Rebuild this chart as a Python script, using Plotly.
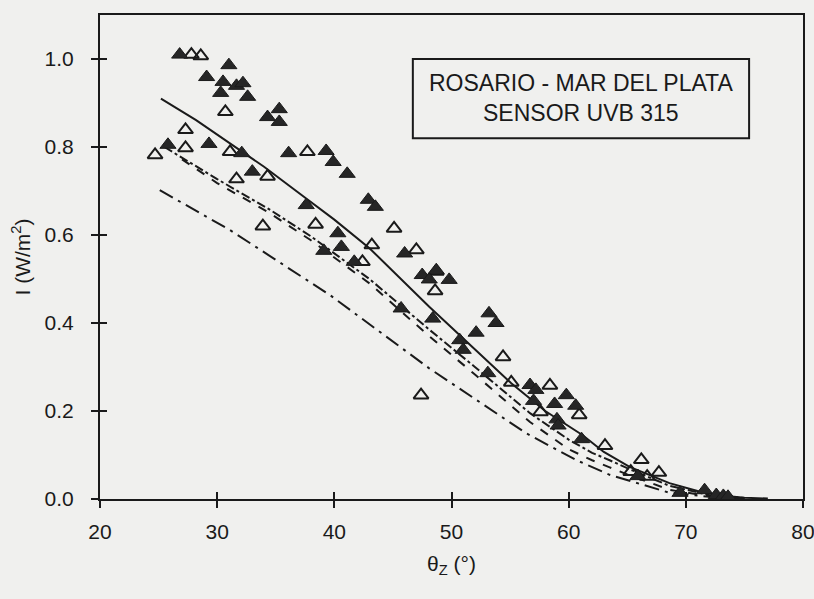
import plotly.graph_objects as go

# ---- data ----
filled_x = [26.8, 29.1, 31.0, 30.5, 30.3, 31.65, 32.2, 32.6, 34.3, 35.3, 35.3, 25.8, 29.3, 32.1,
            36.1, 39.3, 39.9, 41.1, 33.0, 37.6, 40.3, 40.6, 39.1, 41.7, 42.9, 43.5, 46.0, 47.5,
            48.1, 49.8, 48.7, 45.7, 48.4, 53.2, 53.8, 52.1, 50.7, 51.0, 53.1, 56.7, 57.2, 57.0,
            59.8, 58.8, 60.6, 59.0, 59.1, 61.1, 65.9, 69.5, 71.6, 72.6, 73.2, 73.6]
filled_y = [1.01, 0.959, 0.986, 0.948, 0.923, 0.939, 0.945, 0.914, 0.868, 0.886, 0.857, 0.805, 0.807, 0.786,
            0.786, 0.791, 0.766, 0.739, 0.744, 0.668, 0.604, 0.573, 0.564, 0.539, 0.68, 0.664, 0.558, 0.509,
            0.499, 0.498, 0.52, 0.433, 0.41, 0.422, 0.40, 0.378, 0.361, 0.339, 0.286, 0.259, 0.248, 0.223,
            0.236, 0.216, 0.212, 0.181, 0.167, 0.136, 0.052, 0.014, 0.02, 0.009, 0.007, 0.005]

open_x = [27.8, 28.6, 30.7, 27.3, 24.7, 27.3, 31.1, 37.7, 34.3, 31.65, 38.4, 33.9, 42.4, 45.1,
          43.2, 47.0, 48.7, 48.6, 47.4, 54.4, 55.1, 58.4, 60.9, 57.6, 63.1, 66.2, 65.3, 66.7, 67.7]
open_y = [1.01, 1.007, 0.88, 0.839, 0.782, 0.798, 0.789, 0.789, 0.733, 0.727, 0.624, 0.62, 0.539, 0.615,
          0.577, 0.566, 0.517, 0.473, 0.236, 0.323, 0.265, 0.258, 0.191, 0.198, 0.121, 0.089, 0.062, 0.051, 0.06]

# model curves
solid_x = [25.2, 28.2, 31.0, 34.0, 37.6, 40.0, 43.0, 45.0, 48.1, 50.0, 52.0, 55.1, 58.0, 61.2, 63.0, 65.2, 68.6, 71.0, 73.0, 75.0, 77.0]
solid_y = [0.91, 0.861, 0.81, 0.755, 0.683, 0.635, 0.57, 0.518, 0.437, 0.39, 0.34, 0.263, 0.20, 0.145, 0.107, 0.073, 0.036, 0.018, 0.008, 0.003, 0.001]

mid_a_x = [25.5, 30.0, 34.35, 38.0, 43.0, 48.1, 52.0, 56.7, 60.0, 62.0, 63.5, 65.0, 68.6, 72.0, 75.0]
mid_a_y = [0.80, 0.727, 0.66, 0.597, 0.50, 0.385, 0.30, 0.195, 0.135, 0.105, 0.088, 0.07, 0.03, 0.009, 0.002]

mid_b_x = [27.0, 30.0, 34.35, 38.0, 43.0, 48.1, 52.0, 56.7, 60.0, 62.0, 63.5, 65.0, 68.6, 72.0, 75.0]
mid_b_y = [0.772, 0.718, 0.652, 0.588, 0.49, 0.37, 0.283, 0.175, 0.113, 0.088, 0.072, 0.056, 0.021, 0.006, 0.001]

low_x = [25.1, 31.1, 39.6, 48.1, 56.4, 60.6, 63.5, 66.5, 68.5, 72.0, 75.0]
low_y = [0.702, 0.611, 0.464, 0.297, 0.149, 0.089, 0.055, 0.03, 0.015, 0.005, 0.001]

x_ticks = [20, 30, 40, 50, 60, 70, 80]
y_ticks = [0.0, 0.2, 0.4, 0.6, 0.8, 1.0]
y_tick_labels = ["0.0", "0.2", "0.4", "0.6", "0.8", "1.0"]

box_lines = ["ROSARIO - MAR DEL PLATA", "SENSOR UVB 315"]

FONT = "Liberation Sans, Arial, sans-serif"
INK = "#1a1a1a"
BG = "#f0f0ee"

fig = go.Figure()
fig.add_trace(go.Scatter(x=solid_x, y=solid_y, mode="lines", line=dict(color=INK, width=2, dash="solid"),
                         showlegend=False))
fig.add_trace(go.Scatter(x=mid_a_x, y=mid_a_y, mode="lines", line=dict(color=INK, width=2, dash="dashdot"),
                         showlegend=False))
fig.add_trace(go.Scatter(x=mid_b_x, y=mid_b_y, mode="lines", line=dict(color=INK, width=2, dash="dash"),
                         showlegend=False))
fig.add_trace(go.Scatter(x=low_x, y=low_y, mode="lines", line=dict(color=INK, width=2, dash="longdashdot"),
                         showlegend=False))
fig.add_trace(go.Scatter(x=open_x, y=open_y, mode="markers",
                         marker=dict(symbol="triangle-up-open", size=13, color=INK, line=dict(width=2, color=INK)),
                         showlegend=False))
fig.add_trace(go.Scatter(x=filled_x, y=filled_y, mode="markers",
                         marker=dict(symbol="triangle-up", size=14, color="#262626", line=dict(width=1, color=INK)),
                         showlegend=False))
# invisible trace to activate overlay axes (inner ticks)
fig.add_trace(go.Scatter(x=[20], y=[0], xaxis="x2", yaxis="y2", mode="markers",
                         marker=dict(opacity=0), showlegend=False, hoverinfo="skip"))

axis_common = dict(showgrid=False, zeroline=False, linecolor=INK, linewidth=2,
                   tickcolor=INK, tickwidth=1.5, ticklen=7, automargin=False,
                   ticklabeloverflow="allow",
                   tickfont=dict(family=FONT, size=21, color=INK))

fig.update_layout(
    width=814, height=599,
    margin=dict(l=100, r=11, t=15, b=100, autoexpand=False),
    paper_bgcolor=BG, plot_bgcolor=BG,
    font=dict(family=FONT, color=INK),
    xaxis=dict(range=[20, 80], tickvals=x_ticks, ticks="outside", showline=True, mirror=True,
               ticklabelstandoff=6,
               title=dict(text="θ<sub>Z</sub> (°)", font=dict(family=FONT, size=21, color=INK), standoff=14),
               **axis_common),
    yaxis=dict(range=[0, 1.1], tickvals=y_ticks, ticktext=y_tick_labels, ticks="outside", showline=True, mirror=True,
               ticklabelstandoff=13,
               title=dict(text="I (W/m<sup>2</sup>)", font=dict(family=FONT, size=21, color=INK), standoff=8),
               **axis_common),
    xaxis2=dict(range=[20, 80], tickvals=x_ticks, ticks="inside", ticklen=7, tickwidth=1.5, tickcolor=INK,
                showticklabels=False, showgrid=False, zeroline=False, overlaying="x", side="bottom", showline=False),
    yaxis2=dict(range=[0, 1.1], tickvals=y_ticks, ticks="inside", ticklen=7, tickwidth=1.5, tickcolor=INK,
                showticklabels=False, showgrid=False, zeroline=False, overlaying="y", side="left", showline=False),
)

# label box (ROSARIO - MAR DEL PLATA / SENSOR UVB 315)
fig.add_shape(type="rect", xref="x", yref="y", x0=46.7, x1=75.4, y0=0.82, y1=1.0,
              line=dict(color=INK, width=2), fillcolor="rgba(0,0,0,0)")
fig.add_annotation(x=61.05, y=0.946, xref="x", yref="y", text=box_lines[0], showarrow=False,
                   xanchor="center", yanchor="middle", font=dict(family=FONT, size=23, color=INK))
fig.add_annotation(x=61.05, y=0.878, xref="x", yref="y", text=box_lines[1], showarrow=False,
                   xanchor="center", yanchor="middle", font=dict(family=FONT, size=23, color=INK))

fig.write_html("out.html")
